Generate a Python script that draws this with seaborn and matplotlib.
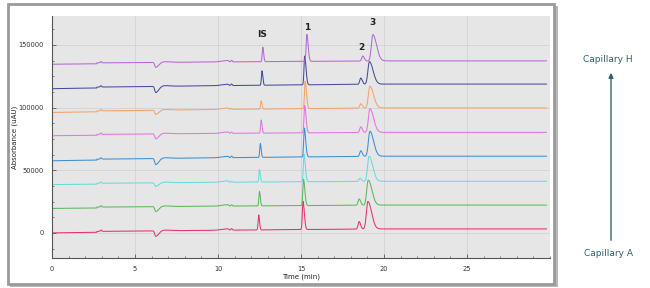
import numpy as np
import pandas as pd
import matplotlib
matplotlib.use("Agg")
import matplotlib.pyplot as plt
import seaborn as sns
from matplotlib.patches import Rectangle
from matplotlib.ticker import MultipleLocator

# ---- data (capillary A at bottom -> H at top) ----
capillaries = ["A", "B", "C", "D", "E", "F", "G", "H"]
colors = ["#e2336b", "#5cb85c", "#66dbe0", "#3b8fd4", "#e374e3", "#f2a36e", "#454c9e", "#b667d6"]
baseline_start = [0, 19500, 38500, 57500, 77500, 96000, 115000, 134500]
baseline_end = [2500, 21500, 40500, 60500, 79500, 99000, 118000, 136500]
is_time = [12.45, 12.5, 12.5, 12.55, 12.6, 12.6, 12.65, 12.7]
is_height = [12000, 11500, 10000, 11000, 10500, 6500, 11500, 11500]
p1_time = [15.12, 15.15, 15.18, 15.2, 15.22, 15.25, 15.22, 15.35]
p1_height = [22500, 21000, 22000, 23000, 22000, 22000, 23000, 21500]
p2_time = [18.5, 18.5, 18.55, 18.6, 18.6, 18.6, 18.6, 18.72]
p2_height = [6000, 5000, 2500, 4500, 4500, 3500, 5000, 4000]
p3_time = [19.03, 19.05, 19.1, 19.15, 19.15, 19.15, 19.12, 19.33]
p3_height = [22000, 20000, 20000, 20000, 19000, 17500, 18000, 21000]
dip_depth = [4500, 4000, 3000, 5000, 4000, 3500, 5000, 4000]
bump_height = [2500, 2000, 1500, 2500, 2000, 1500, 2500, 2500]

peak_labels = ["IS", "1", "2", "3"]
label_x = [12.65, 15.35, 18.65, 19.3]
label_y = [158000, 163500, 147500, 168000]

y_ticks = [0, 50000, 100000, 150000]
x_ticks = [0, 5, 10, 15, 20, 25]


def shape(t, c, sl, sr=None):
    sr = sl if sr is None else sr
    s = np.where(t < c, sl, sr)
    return np.exp(-0.5 * ((t - c) / s) ** 2)


t = np.linspace(0, 29.8, 4000)
frames = []
for i, cap in enumerate(capillaries):
    b0, b1 = baseline_start[i], baseline_end[i]
    y = b0 + (b1 - b0) * np.clip(t / 20.0, 0, 1) ** 0.8
    y = y + 700 * (t > 2.7) + 1100 * shape(t, 2.95, 0.04)
    y = y - dip_depth[i] * shape(t, 6.25, 0.06, 0.18) + 500 * shape(t, 6.8, 0.3)
    y = y + 1100 * shape(t, 10.6, 0.35, 0.05) + bump_height[i] * 0.5 * shape(t, 10.82, 0.04)
    y = y + is_height[i] * shape(t, is_time[i], 0.035, 0.05)
    y = y + p1_height[i] * shape(t, p1_time[i], 0.04, 0.08)
    y = y + p2_height[i] * shape(t, p2_time[i], 0.06, 0.09)
    y = y + p3_height[i] * shape(t, p3_time[i], 0.09, 0.22)
    frames.append(pd.DataFrame({"Time (min)": t, "Absorbance (uAU)": y, "Capillary": cap}))
df = pd.concat(frames, ignore_index=True)

sns.set_theme(style="darkgrid")
plt.rcParams["font.family"] = ["DejaVu Sans"]

fig = plt.figure(figsize=(6.5, 2.88), dpi=100)
fig.patch.set_facecolor("white")

# framed panel with shadow
fig.patches.append(Rectangle((10 / 650, 1 - 287 / 288), 548 / 650, 281 / 288, transform=fig.transFigure,
                             facecolor="#b8b8b8", edgecolor="none", zorder=-3))
fig.patches.append(Rectangle((8 / 650, 1 - 284 / 288), 546 / 650, 280 / 288, transform=fig.transFigure,
                             facecolor="white", edgecolor="#9a9a9a", linewidth=2.0, zorder=-2))

ax = fig.add_axes([52 / 650, 1 - 258 / 288, 498 / 650, 242 / 288])
ax.set_facecolor("#e6e6e6")
sns.lineplot(data=df, x="Time (min)", y="Absorbance (uAU)", hue="Capillary",
             palette=colors, estimator=None, sort=False, linewidth=0.75, legend=False, ax=ax)

ax.set_xlim(0, 30)
ax.set_ylim(-20000, 173000)
ax.set_xticks(x_ticks)
ax.set_yticks(y_ticks)
ax.xaxis.set_minor_locator(MultipleLocator(1))
ax.yaxis.set_minor_locator(MultipleLocator(12500))
ax.grid(True, which="major", color="#d2d2d2", linewidth=0.6)
ax.grid(False, which="minor")
for side in ["top", "right"]:
    ax.spines[side].set_visible(False)
for side in ["left", "bottom"]:
    ax.spines[side].set_visible(True)
    ax.spines[side].set_color("#555555")
    ax.spines[side].set_linewidth(0.8)
ax.tick_params(axis="both", which="both", bottom=True, left=True, top=False, right=False)
ax.tick_params(axis="both", which="major", labelsize=4.8, length=3, width=0.6, color="#555555",
               direction="in", pad=6, labelcolor="#333333")
ax.tick_params(axis="both", which="minor", length=1.5, width=0.5, color="#555555", direction="in")
ax.set_xlabel("Time (min)", fontsize=5, labelpad=1, color="#222222", x=0.5)
ax.set_ylabel("Absorbance (uAU)", fontsize=5, labelpad=0, color="#222222")

for lab, lx, ly in zip(peak_labels, label_x, label_y):
    ax.text(lx, ly, lab, ha="center", va="center", fontsize=6.5, fontweight="bold", color="#222222")

# capillary direction arrow on the right
fig.text(608 / 650, 1 - 60 / 288, "Capillary H", ha="center", va="center", fontsize=6.5, color="#2f5f6f")
fig.text(608 / 650, 1 - 254 / 288, "Capillary A", ha="center", va="center", fontsize=6.5, color="#2f5f6f")
ax.annotate("", xy=(611 / 650, 1 - 70 / 288), xytext=(611 / 650, 1 - 243 / 288),
            xycoords="figure fraction", textcoords="figure fraction",
            arrowprops=dict(arrowstyle="-|>", color="#2f6270", lw=1.0, mutation_scale=7))

fig.savefig("out.png", dpi=100)
